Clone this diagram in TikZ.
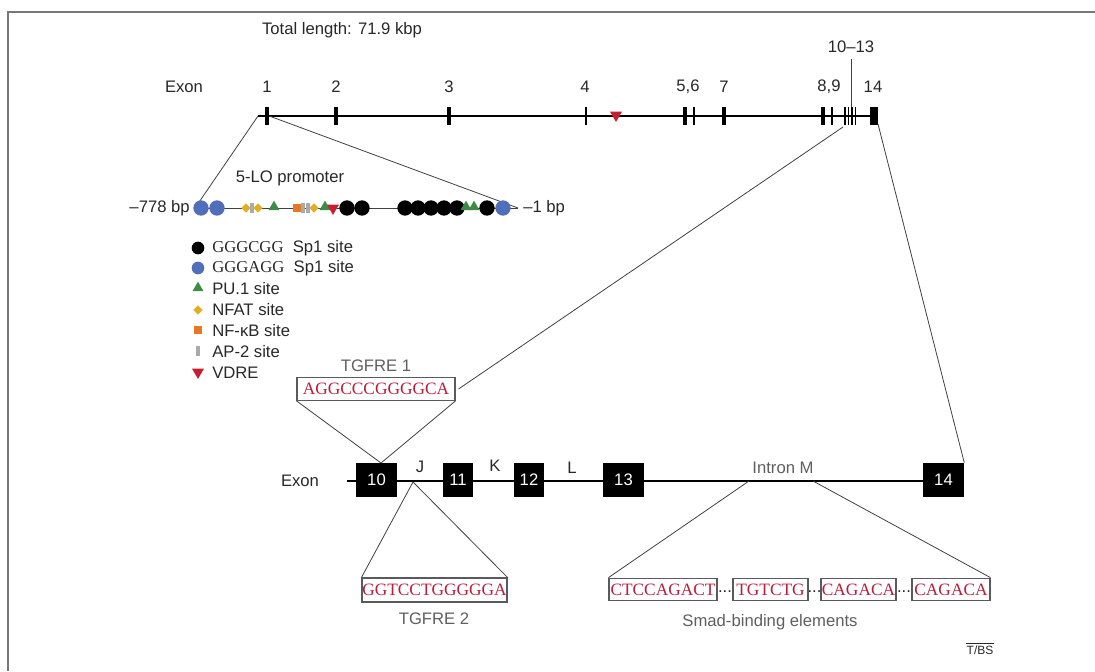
\documentclass[tikz,border=0pt]{standalone}
\usepackage{fontspec}
\setmainfont{Liberation Sans}
\newfontfamily\seqfont{Liberation Serif}
\usetikzlibrary{shapes.geometric}
\definecolor{framegray}{RGB}{120,120,120}
\definecolor{inkgray}{RGB}{40,40,40}
\definecolor{labgray}{RGB}{95,95,95}
\definecolor{seqred}{RGB}{185,30,60}
\definecolor{boxgray}{RGB}{90,90,90}
\definecolor{sponeblue}{RGB}{80,110,185}
\definecolor{pugreen}{RGB}{60,140,70}
\definecolor{nfatyellow}{RGB}{225,175,35}
\definecolor{nfkborange}{RGB}{230,120,35}
\definecolor{apgray}{RGB}{170,170,170}
\definecolor{vdrered}{RGB}{200,30,50}
\tikzset{
  lbl/.style={inner sep=0pt, text=inkgray, font=\fontsize{12.5}{14}\selectfont},
  graylbl/.style={lbl, text=labgray},
  gene/.style={draw=black, line width=1.1pt},
  conn/.style={draw=black!75, line width=0.6pt},
  exbar/.style={fill=black, inner sep=0pt, minimum height=13.5pt, minimum width=3pt},
  thinbar/.style={exbar, minimum width=1.3pt},
  exbox/.style={fill=black, text=white, inner sep=0pt, minimum height=25.5pt,
    minimum width=30.75pt, font=\fontsize{12.5}{14}\selectfont},
  exboxnarrow/.style={exbox, minimum width=22.5pt},
  seqbox/.style={draw=boxgray, line width=0.8pt, fill=white, text=seqred,
    inner sep=0pt, minimum height=17pt, font=\seqfont\fontsize{13}{14}\selectfont},
  gcsite/.style={circle, fill=black, inner sep=0pt, minimum size=11.5pt},
  agsite/.style={circle, fill=sponeblue, inner sep=0pt, minimum size=11.5pt},
  pusite/.style={regular polygon, regular polygon sides=3, fill=pugreen, inner sep=0pt, minimum size=9.5pt},
  nfatsite/.style={diamond, fill=nfatyellow, inner sep=0pt, minimum size=7pt},
  nfkbsite/.style={rectangle, fill=nfkborange, inner sep=0pt, minimum size=6.5pt},
  apsite/.style={rectangle, fill=apgray, inner sep=0pt, minimum width=2.4pt, minimum height=7.5pt},
  vdresite/.style={regular polygon, regular polygon sides=3, shape border rotate=180,
    fill=vdrered, inner sep=0pt, minimum size=10.5pt},
  legsym/.style={minimum size=9.5pt},
}
\begin{document}
\begin{tikzpicture}[x=0.75pt,y=-0.75pt]
\useasboundingbox (0,0) rectangle (1095,671);
% page frame
\draw[framegray, line width=1.4pt] (8,671) -- (8,12) -- (1095,12);

\node[lbl] (total) at (342,30) {Total length: 71.9 kbp};

% ---------- whole gene, exons 1-14 ----------
\node[lbl] (exonA) at (184,87) {Exon};
\coordinate (gstart) at (258,116);
\coordinate (gend) at (878,116);
\draw[gene] (gstart) -- (gend);
\node[exbar] (e1) at (267,116) {};
\node[exbar] (e2) at (336,116) {};
\node[exbar] (e3) at (449,116) {};
\node[thinbar] (e4) at (586,116) {};
\node[exbar] (e5) at (685,116) {};
\node[thinbar] (e6) at (694,116) {};
\node[exbar] (e7) at (724,116) {};
\node[exbar] (e8) at (823,116) {};
\node[thinbar] (e9) at (832,116) {};
\node[thinbar] (e10) at (845,116) {};
\node[thinbar] (e11) at (848.5,116) {};
\node[thinbar] (e12) at (852,116) {};
\node[thinbar] (e13) at (855.5,116) {};
\node[exbar, minimum width=6pt] (e14) at (874,116) {};
\node[vdresite] (vdre) at (616,115) {};

\node[lbl] (n1) at (267,87) {1};
\node[lbl] (n2) at (336,87) {2};
\node[lbl] (n3) at (449,87) {3};
\node[lbl] (n4) at (585,87) {4};
\node[lbl] (n56) at (688,87) {5,6};
\node[lbl] (n7) at (724,87) {7};
\node[lbl] (n89) at (829,87) {8,9};
\node[lbl] (n14) at (873,87) {14};
\node[lbl] (n1013) at (851,47) {10--13};
\coordinate (m1013top) at (851,59);
\coordinate (m1013) at (851,107);
\draw[conn] (m1013top) -- (m1013);

% ---------- 5-LO promoter ----------
\coordinate (pl) at (195,208);
\coordinate (pr) at (518,208);
\draw[conn] (gstart) -- (pl);
\draw[conn] (e1.east) -- (pr);
\draw[conn] (pl) -- (pr);
\node[lbl] (promlbl) at (290,178) {5-LO promoter};
\node[lbl, anchor=east] (bp778) at (190,208) {--778 bp};
\node[lbl, anchor=west] (bp1) at (523,208) {--1 bp};

\node[agsite] (p1) at (201,208) {};
\node[agsite] (p2) at (217,208) {};
\node[nfatsite] (p3) at (246,208) {};
\node[apsite] (p4) at (252,208) {};
\node[nfatsite] (p5) at (258,208) {};
\node[pusite] (p6) at (274,207) {};
\node[nfkbsite] (p7) at (297,208) {};
\node[apsite] (p8) at (303,208) {};
\node[apsite] (p9) at (308,208) {};
\node[nfatsite] (p10) at (314,208) {};
\node[pusite] (p11) at (325,207) {};
\node[vdresite] (p12) at (333,208) {};
\node[gcsite] (p13) at (347,208) {};
\node[gcsite] (p14) at (362,208) {};
\node[gcsite] (p15) at (405,208) {};
\node[gcsite] (p16) at (418,208) {};
\node[gcsite] (p17) at (431,208) {};
\node[gcsite] (p18) at (444,208) {};
\node[gcsite] (p19) at (457,208) {};
\node[pusite] (p20) at (466,207) {};
\node[pusite] (p21) at (474,207) {};
\node[gcsite] (p22) at (487,208) {};
\node[agsite] (p23) at (503,208) {};

% ---------- legend ----------
\node[gcsite, legsym] (lg1) at (198,248) {};
\node[lbl, anchor=west] (lt1) at (212,248) {{\seqfont GGGCGG}\ \ Sp1 site};
\node[agsite, legsym] (lg2) at (198,268) {};
\node[lbl, anchor=west] (lt2) at (212,268) {{\seqfont GGGAGG}\ \ Sp1 site};
\node[pusite] (lg3) at (198,288) {};
\node[lbl, anchor=west] (lt3) at (212,289) {PU.1 site};
\node[nfatsite] (lg4) at (198,310) {};
\node[lbl, anchor=west] (lt4) at (212,310) {NFAT site};
\node[nfkbsite] (lg5) at (198,330) {};
\node[lbl, anchor=west] (lt5) at (212,331) {NF-κB site};
\node[apsite, minimum height=8pt] (lg6) at (198,351) {};
\node[lbl, anchor=west] (lt6) at (212,352) {AP-2 site};
\node[vdresite] (lg7) at (198,372) {};
\node[lbl, anchor=west] (lt7) at (212,373) {VDRE};

% ---------- exons 10-14 in detail ----------
\node[lbl] (exonB) at (300,481) {Exon};
\coordinate (bstart) at (347,481);
\coordinate (bend) at (930,481);
\draw[gene] (bstart) -- (bend);
\node[exbox] (x10) at (376.5,480) {10};
\node[exboxnarrow] (x11) at (458,480) {11};
\node[exboxnarrow] (x12) at (529,480) {12};
\node[exbox] (x13) at (623.5,480) {13};
\node[exbox] (x14) at (943.5,480) {14};
\node[lbl] (jlbl) at (420,467) {J};
\node[lbl] (klbl) at (495,466) {K};
\node[lbl] (llbl) at (572,468) {L};
\node[graylbl] (mlbl) at (783,468) {Intron M};

% TGFRE 1 in exon 10
\node[graylbl] (tg1lbl) at (376,366) {TGFRE 1};
\node[seqbox, minimum width=118.5pt] (tg1) at (376,389) {AGGCCCGGGGCA};
\coordinate (x10top) at (381,463);
\draw[conn] (tg1.south west) -- (x10top) -- (tg1.south east);
\coordinate (top1013) at (843,127);
\draw[conn] (tg1.east) ++(3,0) -- (top1013);
\coordinate (top14) at (878,124);
\draw[conn] (top14) -- (x14.north east);

% TGFRE 2 in intron J
\coordinate (jpt) at (413,482);
\node[seqbox, minimum width=108.75pt, minimum height=18pt] (tg2) at (434.5,590) {GGTCCTGGGGGA};
\draw[conn] (tg2.north west) -- (jpt) -- (tg2.north east);
\node[graylbl] (tg2lbl) at (434,619) {TGFRE 2};

% Smad-binding elements in intron M
\node[seqbox, minimum width=81pt] (sb1) at (663,589.5) {CTCCAGACT};
\node[seqbox, minimum width=56.25pt] (sb2) at (770.5,589.5) {TGTCTG};
\node[seqbox, minimum width=56.25pt] (sb3) at (858.5,589.5) {CAGACA};
\node[seqbox, minimum width=58.5pt] (sb4) at (951,589.5) {CAGACA};
\node[lbl] (d1) at (725,592) {...};
\node[lbl] (d2) at (814.5,592) {...};
\node[lbl] (d3) at (904,592) {...};
\coordinate (mleft) at (749,481);
\coordinate (mright) at (813,481);
\draw[conn] (mleft) -- (sb1.north west);
\draw[conn] (mright) -- (sb4.north east);
\node[graylbl] (smadlbl) at (770,622) {Smad-binding elements};

% journal mark
\node[lbl, font=\fontsize{9}{10}\selectfont] (tibs) at (980,650) {T/BS};
\draw[inkgray, line width=0.4pt] ([yshift=1.5pt]tibs.north west) -- ([yshift=1.5pt]tibs.north east);
\end{tikzpicture}
\end{document}
